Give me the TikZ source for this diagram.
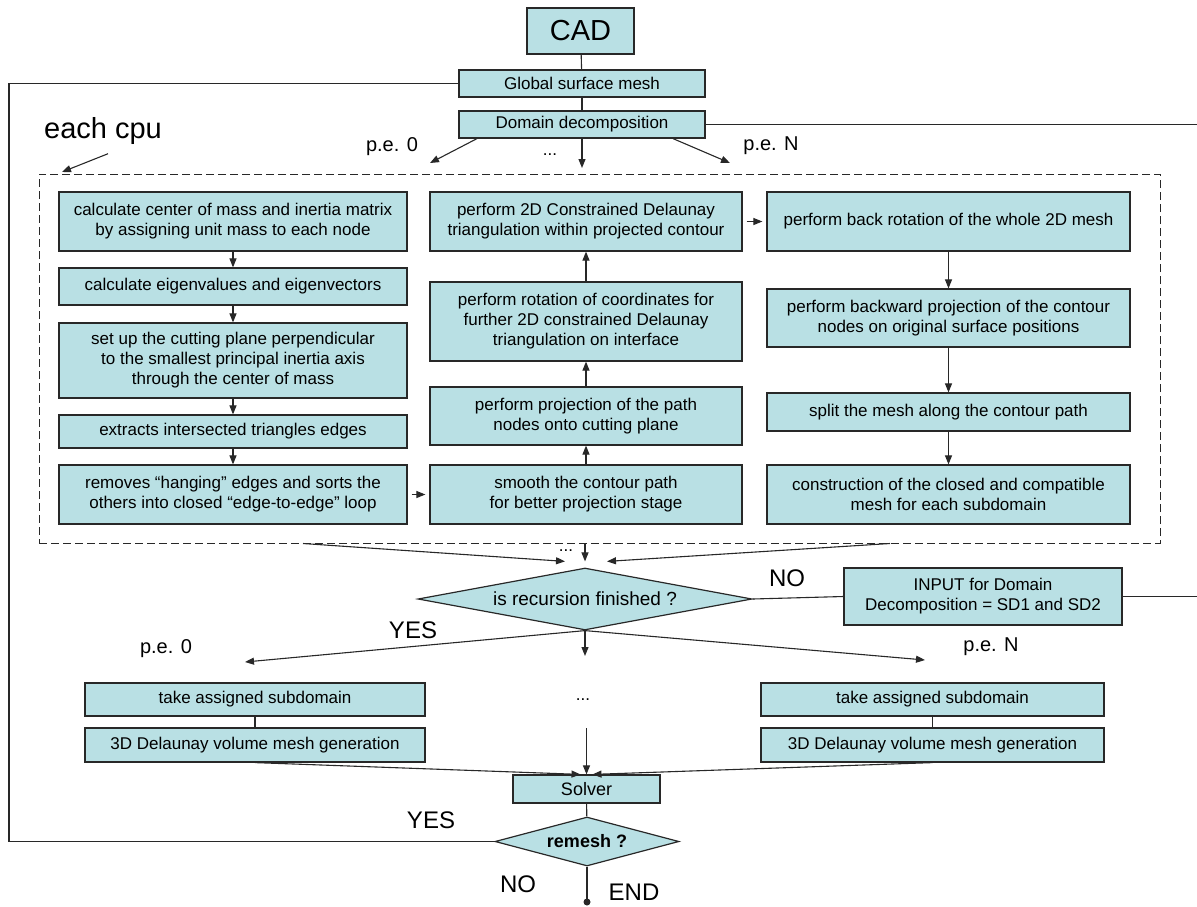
\documentclass[tikz,border=0pt]{standalone}
\usepackage{fontspec}
\setmainfont{Liberation Sans}
\usetikzlibrary{shapes.geometric, arrows.meta}
\usepackage{xcolor}
\definecolor{boxfill}{RGB}{185,224,228}
\definecolor{linegray}{RGB}{40,40,40}
\newcommand{\boxfont}{\fontsize{17}{20}\selectfont}
\newcommand{\pefont}{\fontsize{20}{24}\selectfont}
\newcommand{\answerfont}{\fontsize{24}{28}\selectfont}
\tikzstyle{procbox} = [rectangle, draw=linegray, line width=1.2pt, fill=boxfill, align=center, font=\boxfont, inner sep=2pt]
\tikzstyle{decision} = [diamond, draw=linegray, line width=1.2pt, fill=boxfill, inner sep=0pt, align=center]
\tikzstyle{cpubox} = [rectangle, draw=linegray, dash pattern=on 8pt off 4pt, line width=1pt]
\tikzstyle{arrow} = [line width=1.1pt, draw=linegray, -{Triangle[length=9pt,width=7pt]}]
\tikzstyle{sidearrow} = [arrow, shorten <=4pt, shorten >=4pt]
\tikzstyle{link} = [line width=1.1pt, draw=linegray]
\tikzstyle{lbl} = [inner sep=1pt]

\begin{document}
\begin{tikzpicture}[x=1pt, y=-1pt]
\useasboundingbox (0,0) rectangle (1197,906);

% Top chain
\node[procbox, minimum width=107, minimum height=46, font=\fontsize{29}{32}\selectfont] (cad) at (580.5,31) {CAD};
\node[procbox, minimum width=246, minimum height=27] (gsm) at (582,83.5) {Global surface mesh};
\node[procbox, minimum width=246, minimum height=27] (dd) at (582,124.5) {Domain decomposition};

% Labels above the cpu region
\node[lbl, font=\fontsize{29}{32}\selectfont] (ecpu) at (103,131) {each cpu};
\node[lbl, font=\pefont] (petopzero) at (392,147) {p.e. 0};
\node[lbl, font=\pefont] (petopN) at (771,146) {p.e. N};
\node[lbl, font=\boxfont] (dotstop) at (550,155) {...};
\coordinate (cputip) at (62,172);
\coordinate (tiptopzero) at (430,163);
\coordinate (tiptopmid) at (582,168);
\coordinate (tiptopN) at (730,163);

% Work done on each cpu
\node[cpubox, minimum width=1121, minimum height=369] (cpu) at (599.5,358.5) {};

% Left column
\node[procbox, minimum width=348, minimum height=59] (lone) at (233,221.5) {calculate center of mass and inertia matrix\\by assigning unit mass to each node};
\node[procbox, minimum width=348, minimum height=37] (ltwo) at (233,286.5) {calculate eigenvalues and eigenvectors};
\node[procbox, minimum width=348, minimum height=75] (lthree) at (233,360.5) {set up the cutting plane perpendicular\\to the smallest principal inertia axis\\through the center of mass};
\node[procbox, minimum width=348, minimum height=33] (lfour) at (233,431.5) {extracts intersected triangles edges};
\node[procbox, minimum width=348, minimum height=59] (lfive) at (233,494.5) {removes “hanging” edges and sorts the\\others into closed “edge-to-edge” loop};

% Middle column
\node[procbox, minimum width=312, minimum height=59] (mone) at (586,221.5) {perform 2D Constrained Delaunay\\triangulation within projected contour};
\node[procbox, minimum width=312, minimum height=79] (mtwo) at (586,321.5) {perform rotation of coordinates for\\further 2D constrained Delaunay\\triangulation on interface};
\node[procbox, minimum width=312, minimum height=58] (mthree) at (586,416) {perform projection of the path\\nodes onto cutting plane};
\node[procbox, minimum width=312, minimum height=59] (mfour) at (586,494.5) {smooth the contour path\\for better projection stage};

% Right column
\node[procbox, minimum width=363, minimum height=59] (rone) at (948.5,221.5) {perform back rotation of the whole 2D mesh};
\node[procbox, minimum width=363, minimum height=58] (rtwo) at (948.5,318) {perform backward projection of the contour\\nodes on original surface positions};
\node[procbox, minimum width=363, minimum height=38] (rthree) at (948.5,412) {split the mesh along the contour path};
\node[procbox, minimum width=363, minimum height=59] (rfour) at (948.5,494.5) {construction of the closed and compatible\\mesh for each subdomain};

% Recursion test
\node[lbl, font=\boxfont] (dotsmid) at (566,551) {...};
\node[decision, shape aspect=5.4, minimum width=334, minimum height=62, font=\fontsize{19}{22}\selectfont] (rec) at (585,599) {is recursion finished ?};
\node[procbox, minimum width=278, minimum height=57] (inp) at (983,596.5) {INPUT for Domain\\Decomposition = SD1 and SD2};
\node[lbl, font=\answerfont] (yesrec) at (413,630) {YES};
\node[lbl, font=\answerfont] (norec) at (787,578) {NO};
\coordinate (inpout) at (1197,596.5);
\coordinate (ddout) at (1197,124.5);
\coordinate (loopx) at (9,83.5);

% Volume meshing on each cpu
\node[lbl, font=\pefont] (pebotzero) at (166,649) {p.e. 0};
\node[lbl, font=\pefont] (pebotN) at (991,647) {p.e. N};
\coordinate (tipbotzero) at (245,662);
\coordinate (tipbotN) at (925,660);
\coordinate (recdown) at (585,656);
\node[procbox, minimum width=340, minimum height=33] (takezero) at (255,699.5) {take assigned subdomain};
\node[procbox, minimum width=340, minimum height=34] (volzero) at (255,745) {3D Delaunay volume mesh generation};
\node[procbox, minimum width=343, minimum height=33] (takeN) at (932.5,699.5) {take assigned subdomain};
\node[procbox, minimum width=343, minimum height=34] (volN) at (932.5,745) {3D Delaunay volume mesh generation};
\node[lbl, font=\boxfont] (dotsbot) at (583,700) {...};
\coordinate (solvin) at (586.5,728);

% Solver and remesh loop
\node[procbox, minimum width=147, minimum height=28, font=\fontsize{18}{21}\selectfont] (solver) at (586.5,789) {Solver};
\node[decision, shape aspect=3.75, minimum width=184, minimum height=49, font=\fontsize{18}{21}\selectfont\bfseries] (remesh) at (587,841.5) {remesh ?};
\node[lbl, font=\answerfont] (yesmesh) at (431,820) {YES};
\node[lbl, font=\answerfont] (nomesh) at (518,884) {NO};
\node[lbl, font=\answerfont] (endlbl) at (634,892) {END};
\coordinate (endpt) at (587,902);

% Connectors
\draw[link] (cad) -- (gsm);
\draw[link] (gsm) -- (dd);
\draw[arrow] ([xshift=-105]dd.south) -- (tiptopzero);
\draw[arrow] (dd.south) -- (tiptopmid);
\draw[arrow] ([xshift=91]dd.south) -- (tiptopN);
\draw[arrow] ([xshift=5,yshift=-8]ecpu.south) -- (cputip);
\draw[link] (dd.east) -- (ddout);
\draw[link] (gsm.west) -- (loopx) |- (remesh.west);

\draw[arrow] (lone) -- (ltwo);
\draw[arrow] (ltwo) -- (lthree);
\draw[arrow] (lthree) -- (lfour);
\draw[arrow] (lfour) -- (lfive);
\draw[sidearrow] (lfive) -- (mfour);
\draw[arrow] (mfour) -- (mthree);
\draw[arrow] (mthree) -- (mtwo);
\draw[arrow] (mtwo) -- (mone);
\draw[sidearrow] (mone) -- (rone);
\draw[arrow] (rone) -- (rtwo);
\draw[arrow] (rtwo) -- (rthree);
\draw[arrow] (rthree) -- (rfour);

\draw[arrow] ([xshift=-296.5]cpu.south) -- ([xshift=-20,yshift=6]rec.north);
\draw[arrow] (rec.north |- cpu.south) -- ([yshift=6]rec.north);
\draw[arrow] ([xshift=290.5]cpu.south) -- ([xshift=22,yshift=6]rec.north);
\draw[link] (rec.east) -- (inp.west);
\draw[link] (inp.east) -- (inpout);

\draw[arrow] (rec.south) -- (tipbotzero);
\draw[arrow] (rec.south) -- (recdown);
\draw[arrow] (rec.south) -- (tipbotN);
\draw[link] (takezero) -- (volzero);
\draw[link] (takeN) -- (volN);
\draw[arrow] (volzero.south) -- ([xshift=-6]solver.north);
\draw[arrow] (solvin) -- (solver.north);
\draw[arrow] (volN.south) -- ([xshift=6]solver.north);
\draw[link] (solver) -- (remesh);
\draw[link] (remesh.south) -- (endpt);
\fill[linegray] (endpt) circle[radius=3.5pt];

\end{tikzpicture}
\end{document}
